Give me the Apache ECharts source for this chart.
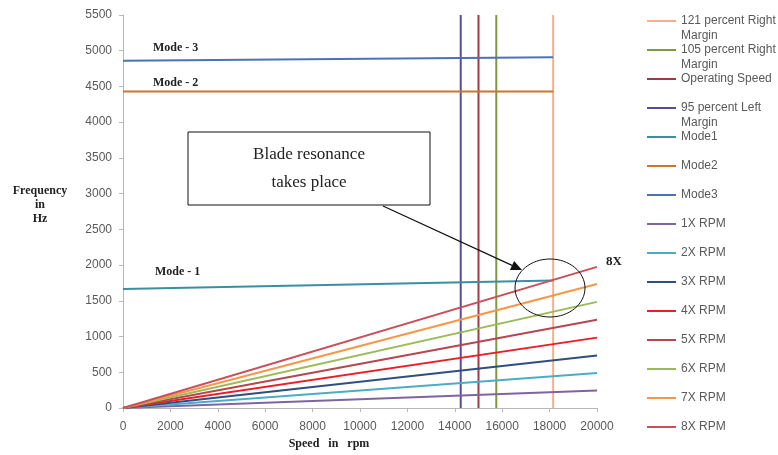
<!DOCTYPE html>
<html>
<head>
<meta charset="utf-8">
<script src="https://cdn.jsdelivr.net/npm/echarts@6/dist/echarts.min.js"></script>
<style>html,body{margin:0;padding:0;background:#fff}#c{width:778px;height:455px}</style>
</head>
<body>
<div id="c"></div>
<script>
// ---- data ----
const xTicks = [0, 2000, 4000, 6000, 8000, 10000, 12000, 14000, 16000, 18000, 20000];
const yTicks = [0, 500, 1000, 1500, 2000, 2500, 3000, 3500, 4000, 4500, 5000, 5500];

const seriesNames = ['121 percent Right Margin', '105 percent Right Margin', 'Operating Speed',
  '95 percent Left Margin', 'Mode1', 'Mode2', 'Mode3',
  '1X RPM', '2X RPM', '3X RPM', '4X RPM', '5X RPM', '6X RPM', '7X RPM', '8X RPM'];

// vertical margin lines (speed, rpm)
const marginSpeeds = [18150, 15750, 15000, 14250];
const marginFreqSpan = [0, 5500];

// mode lines (speed -> frequency)
const modeSpeeds = [0, 18150];
const mode1 = [1665, 1785];
const mode2 = [4430, 4430];
const mode3 = [4860, 4910];

// engine order lines
const rpmSpeeds = [0, 20000];
const rpm1X = [0, 245];
const rpm2X = [0, 490];
const rpm3X = [0, 735];
const rpm4X = [0, 985];
const rpm5X = [0, 1235];
const rpm6X = [0, 1485];
const rpm7X = [0, 1735];
const rpm8X = [0, 1975];

const colors = ['#f5b08a', '#7f9a3c', '#9b3b4a', '#5b4a96', '#3a8fa0', '#c5782f', '#4a72b8',
  '#8064a2', '#4bacc6', '#2e4f80', '#ee1c24', '#b5474f', '#9bbb59', '#f79646', '#c8505a'];

// ---- build series ----
const zip = (xs, ys) => xs.map((x, i) => [x, ys[i]]);
const lineData = [];
marginSpeeds.forEach(s => lineData.push(marginFreqSpan.map(f => [s, f])));
lineData.push(zip(modeSpeeds, mode1), zip(modeSpeeds, mode2), zip(modeSpeeds, mode3));
[rpm1X, rpm2X, rpm3X, rpm4X, rpm5X, rpm6X, rpm7X, rpm8X].forEach(v => lineData.push(zip(rpmSpeeds, v)));

const series = seriesNames.map((n, i) => ({
  name: n, type: 'line', data: lineData[i], showSymbol: false, symbol: 'none',
  lineStyle: { width: 2, color: colors[i] }, itemStyle: { color: colors[i] },
  animation: false, silent: true
}));

const wrapped = { '121 percent Right Margin': '121 percent Right\nMargin',
  '105 percent Right Margin': '105 percent Right\nMargin',
  '95 percent Left Margin': '95 percent Left\nMargin' };

const legends = seriesNames.map((n, i) => {
  const cy = 21 + 29 * i;
  const w = wrapped[n];
  return {
    left: 647, top: w ? cy - 22.5 : cy - 7.5, padding: 0, orient: 'vertical',
    icon: 'rect', itemWidth: 29, itemHeight: 2, itemGap: 0,
    data: [n], selectedMode: false,
    formatter: () => w ? ' \n' + w : n,
    textStyle: { fontSize: 12, lineHeight: 15, color: '#595959', fontFamily: 'Liberation Sans' }
  };
});

const serif = 'Liberation Serif';
const plain = v => String(v);
const chart = echarts.init(document.getElementById('c'), null, { renderer: 'canvas' });
chart.setOption({
  animation: false,
  color: colors,
  grid: { left: 123, right: 181, top: 15, bottom: 47, containLabel: false },
  legend: legends,
  xAxis: {
    type: 'value', min: xTicks[0], max: xTicks[xTicks.length - 1], interval: 2000,
    name: 'Speed   in   rpm', nameLocation: 'middle', nameGap: 28,
    nameTextStyle: { fontFamily: serif, fontWeight: 'bold', fontSize: 12, color: '#222', padding: [0, 62, 0, 0] },
    axisLine: { lineStyle: { color: '#b8b8b8', width: 1 } },
    axisTick: { show: true, length: 4, lineStyle: { color: '#b8b8b8' } },
    axisLabel: { fontSize: 12, color: '#595959', margin: 13, fontFamily: 'Liberation Sans', formatter: plain },
    splitLine: { show: false }
  },
  yAxis: {
    type: 'value', min: yTicks[0], max: yTicks[yTicks.length - 1], interval: 500,
    name: 'Frequency\nin\nHz\n', nameLocation: 'middle', nameRotate: 0, nameGap: 83,
    nameTextStyle: { fontFamily: serif, fontWeight: 'bold', fontSize: 12, lineHeight: 14, color: '#222', align: 'center', verticalAlign: 'middle' },
    axisLine: { show: true, lineStyle: { color: '#b8b8b8', width: 1 } },
    axisTick: { show: true, length: 4, lineStyle: { color: '#b8b8b8' } },
    axisLabel: { fontSize: 12, color: '#595959', margin: 11, fontFamily: 'Liberation Sans', formatter: plain },
    splitLine: { show: false }
  },
  series: series,
  graphic: [
    { type: 'text', left: 153, top: 42, style: { text: 'Mode - 3', font: 'bold 12px "Liberation Serif"', fill: '#222' } },
    { type: 'text', left: 153, top: 77, style: { text: 'Mode - 2', font: 'bold 12px "Liberation Serif"', fill: '#222' } },
    { type: 'text', left: 155, top: 266, style: { text: 'Mode - 1', font: 'bold 12px "Liberation Serif"', fill: '#222' } },
    { type: 'text', left: 606, top: 255, style: { text: '8X', font: 'bold 13px "Liberation Serif"', fill: '#222' } },
    { type: 'rect', shape: { x: 188, y: 132, width: 242, height: 73 }, style: { fill: '#fff', stroke: '#111', lineWidth: 1 }, z: 100 },
    { type: 'text', x: 309, y: 155, style: { text: 'Blade resonance', font: '17px "Liberation Serif"', fill: '#222', textAlign: 'center', textVerticalAlign: 'middle' }, z: 101 },
    { type: 'text', x: 309, y: 183, style: { text: 'takes place', font: '17px "Liberation Serif"', fill: '#222', textAlign: 'center', textVerticalAlign: 'middle' }, z: 101 },
    { type: 'line', shape: { x1: 383, y1: 206, x2: 512, y2: 265.4 }, style: { stroke: '#111', lineWidth: 1.2 }, z: 100 },
    { type: 'polygon', shape: { points: [[522, 270], [509.9, 269.9], [514.1, 260.9]] }, style: { fill: '#111' }, z: 100 },
    { type: 'ellipse', shape: { cx: 550, cy: 288, rx: 35, ry: 29 }, style: { fill: 'none', stroke: '#111', lineWidth: 1 }, z: 100 }
  ]
});
</script>
</body>
</html>
